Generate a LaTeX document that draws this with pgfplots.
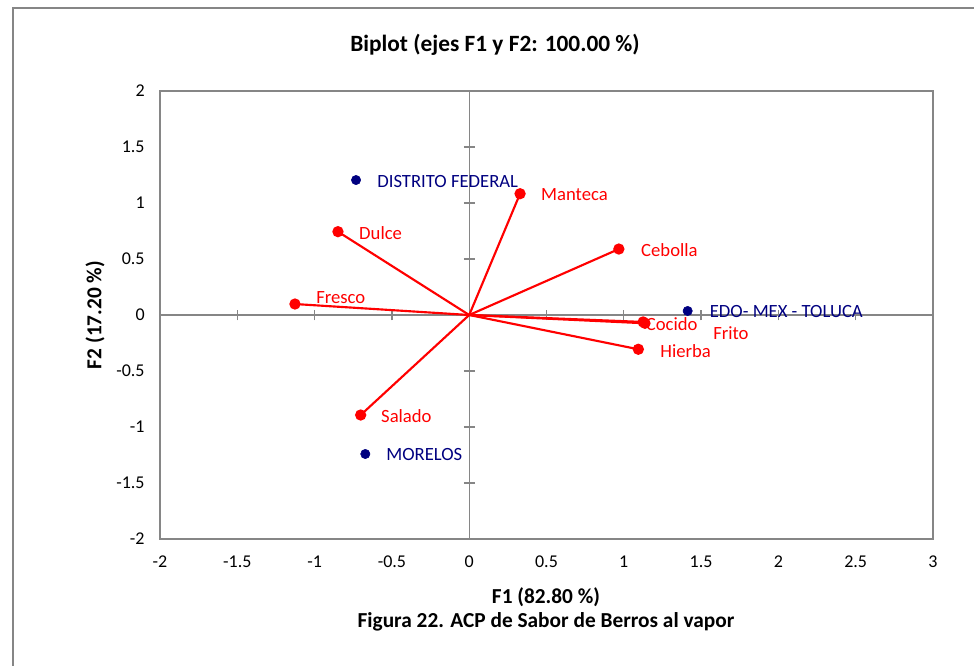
\documentclass[border=0pt]{standalone}
\usepackage{pgfplots}
\pgfplotsset{compat=1.18}
\usepackage{fontspec}
\setmainfont{Carlito}

\definecolor{vecred}{RGB}{255,0,0}
\definecolor{obsnavy}{RGB}{0,0,128}
\definecolor{axgray}{RGB}{134,134,134}

\pgfplotsset{
  biplotframe/.style={
    at={(120pt,-404.25pt)}, anchor=south west,
    scale only axis, width=579.75pt, height=336pt,
    xmin=-2, xmax=3, ymin=-2, ymax=2,
    xtick={-2,-1.5,...,3}, ytick={-2,-1.5,...,2},
  },
  vec/.style={vecred, line width=1.6pt, mark=*, mark indices={2},
    mark size=3.4pt, mark options={fill=vecred, draw=vecred}},
  obs/.style={only marks, mark=*, mark size=3.5pt,
    mark options={fill=obsnavy, draw=obsnavy}},
}
\tikzset{
  vlab/.style={anchor=west, inner sep=0pt, text=vecred, font=\fontsize{14}{16}\selectfont},
  olab/.style={anchor=west, inner sep=0pt, text=obsnavy, font=\fontsize{14}{16}\selectfont},
}

\begin{document}
\begin{tikzpicture}
\begin{scope}[x=0.75pt, y=-0.75pt]
\useasboundingbox (0,0) rectangle (974,666);
\draw[axgray, line width=1.5pt] (13,666) -- (13,8) -- (974,8);
\node[font=\bfseries\fontsize{17.5}{20}\selectfont] at (495,45) {Biplot (ejes F1 y F2: 100.00 \%)};
\node[font=\bfseries\fontsize{16}{18}\selectfont, rotate=90] at (95,315) {F2 (17.20 \%)};
\node[font=\bfseries\fontsize{16}{18}\selectfont] at (546,597) {F1 (82.80 \%)};
\node[font=\bfseries\fontsize{16}{18}\selectfont] at (546,622) {Figura 22. ACP de Sabor de Berros al vapor};
\end{scope}

% outer box with tick labels
\begin{axis}[biplotframe,
  axis line style={axgray, line width=1pt},
  tick style={draw=none}, major tick length=0pt,
  ticklabel style={font=\fontsize{13.5}{15}\selectfont},
  /pgf/number format/assume math mode=true,
  xticklabel shift=9pt, yticklabel shift=8pt,
]
\end{axis}

% crossing axes through the origin, and the data
\begin{axis}[biplotframe,
  axis lines=middle, axis line style={axgray, line width=1pt, -},
  xticklabels={}, yticklabels={},
  tick align=center, major tick length=8pt,
  tick style={axgray, line width=1pt},
  clip=false,
]
\addplot[vec] coordinates {(0,0) (-0.849,0.744)};  % Dulce
\addplot[vec] coordinates {(0,0) (-1.127,0.098)};  % Fresco
\addplot[vec] coordinates {(0,0) (-0.702,-0.893)}; % Salado
\addplot[vec] coordinates {(0,0) (0.329,1.083)};   % Manteca
\addplot[vec] coordinates {(0,0) (0.968,0.589)};   % Cebolla
\addplot[vec] coordinates {(0,0) (1.137,-0.074)};  % Cocido
\addplot[vec] coordinates {(0,0) (1.125,-0.062)};  % Frito
\addplot[vec] coordinates {(0,0) (1.094,-0.306)};  % Hierba

\addplot[obs] coordinates {(-0.732,1.205) (-0.672,-1.241) (1.413,0.036)};

\node[vlab] at (axis cs:-0.713,0.732)  {Dulce};
\node[vlab] at (axis cs:-0.991,0.152)  {Fresco};
\node[vlab] at (axis cs:-0.571,-0.902) {Salado};
\node[vlab] at (axis cs:0.464,1.071)   {Manteca};
\node[vlab] at (axis cs:1.111,0.580)   {Cebolla};
\node[vlab] at (axis cs:1.141,-0.083)  {Cocido};
\node[vlab] at (axis cs:1.577,-0.163)  {Frito};
\node[vlab] at (axis cs:1.235,-0.326)  {Hierba};

\node[olab] at (axis cs:-0.596,1.196)  {DISTRITO FEDERAL};
\node[olab] at (axis cs:-0.538,-1.250) {MORELOS};
\node[olab] at (axis cs:1.555,0.027)   {EDO- MEX - TOLUCA};
\end{axis}
\end{tikzpicture}
\end{document}
